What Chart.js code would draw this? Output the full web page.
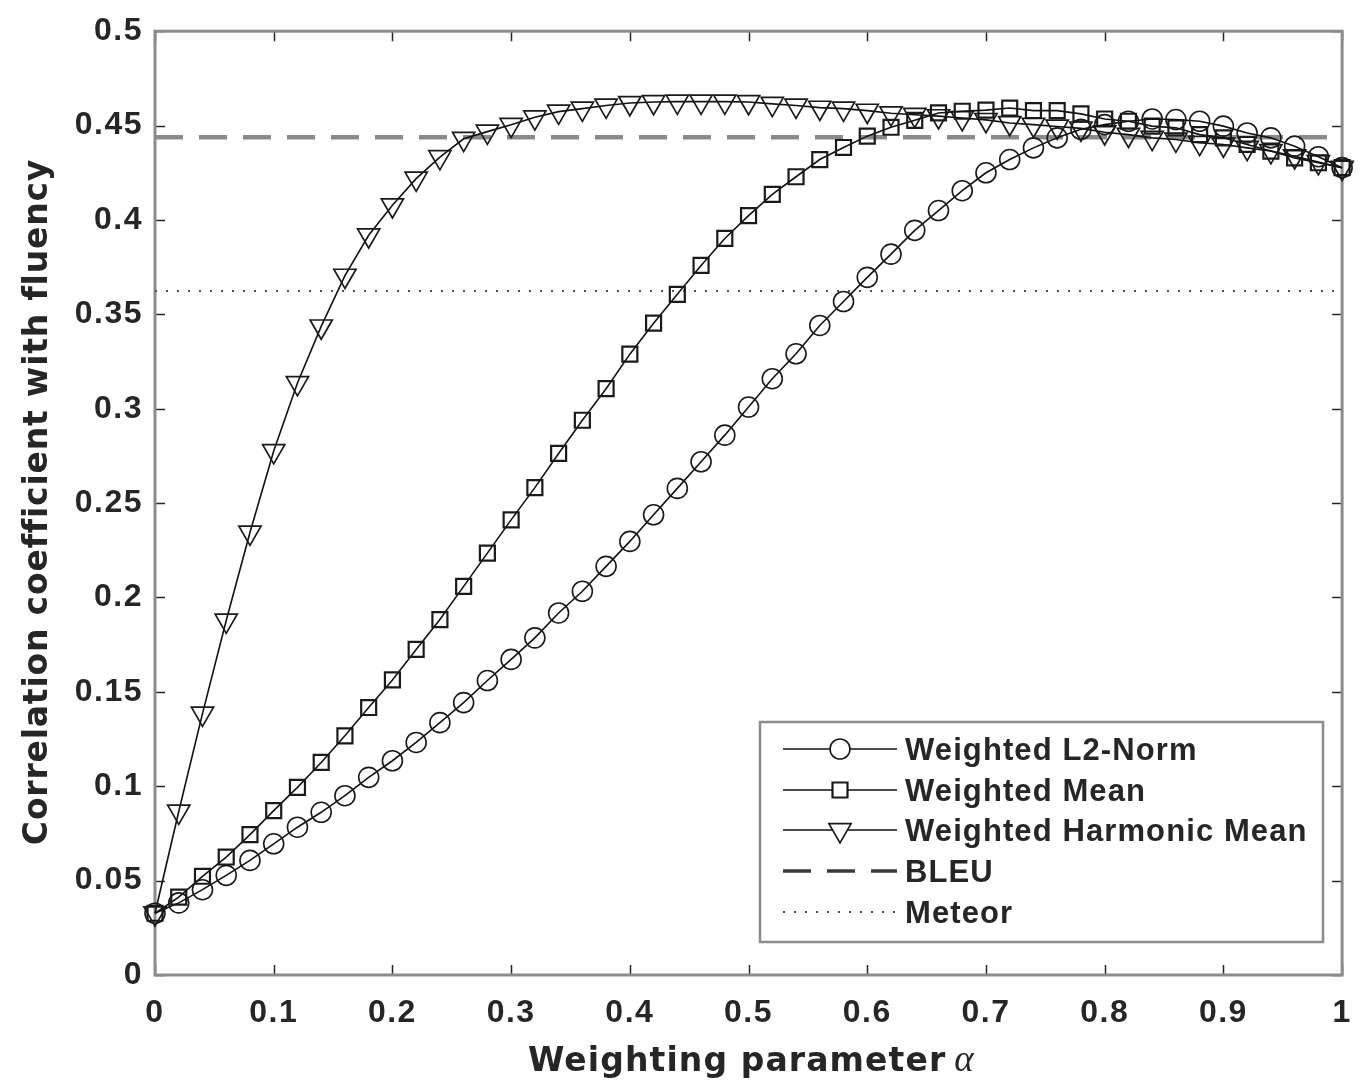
<!DOCTYPE html>
<html>
<head>
<meta charset="utf-8">
<script src="https://cdn.jsdelivr.net/npm/chart.js@4.4.1/dist/chart.umd.min.js"></script>
<style>
  html, body { margin: 0; padding: 0; background: #ffffff; }
  #wrap { width: 1370px; height: 1085px; position: relative; }
</style>
</head>
<body>
<div id="wrap"><canvas id="c"></canvas></div>
<script>
// Weighting parameter alpha (x values)
const alpha = [0, 0.02, 0.04, 0.06, 0.08, 0.1, 0.12, 0.14, 0.16, 0.18,
  0.2, 0.22, 0.24, 0.26, 0.28, 0.3, 0.32, 0.34, 0.36, 0.38,
  0.4, 0.42, 0.44, 0.46, 0.48, 0.5, 0.52, 0.54, 0.56, 0.58,
  0.6, 0.62, 0.64, 0.66, 0.68, 0.7, 0.72, 0.74, 0.76, 0.78,
  0.8, 0.82, 0.84, 0.86, 0.88, 0.9, 0.92, 0.94, 0.96, 0.98, 1];

// Correlation with fluency for each combination scheme
const l2Norm = [0.0327, 0.0382, 0.0452, 0.0528, 0.0607, 0.0695, 0.0783, 0.0862, 0.0950, 0.1047,
  0.1135, 0.1232, 0.1337, 0.1443, 0.1560, 0.1672, 0.1786, 0.1918, 0.2033, 0.2165,
  0.2297, 0.2438, 0.2578, 0.2719, 0.2860, 0.3009, 0.3159, 0.3291, 0.3441, 0.3568,
  0.3696, 0.3819, 0.3945, 0.4050, 0.4155, 0.4250, 0.4320, 0.4382, 0.4435, 0.4480,
  0.4505, 0.4523, 0.4535, 0.4532, 0.4523, 0.4497, 0.4461, 0.4435, 0.4391, 0.4335, 0.4277];

const weightedMean = [0.0327, 0.0413, 0.0523, 0.0625, 0.0744, 0.0871, 0.0994, 0.1126, 0.1267, 0.1417,
  0.1563, 0.1725, 0.1883, 0.2059, 0.2235, 0.2411, 0.2582, 0.2763, 0.2939, 0.3106,
  0.3289, 0.3453, 0.3606, 0.3759, 0.3902, 0.4023, 0.4136, 0.4229, 0.4320, 0.4384,
  0.4444, 0.4491, 0.4528, 0.4567, 0.4576, 0.4582, 0.4593, 0.4579, 0.4579, 0.4562,
  0.4535, 0.4523, 0.4497, 0.4488, 0.4452, 0.4435, 0.4400, 0.4365, 0.4329, 0.4303, 0.4277];

const harmonicMean = [0.0327, 0.0866, 0.1385, 0.1878, 0.2344, 0.2776, 0.3136, 0.3436, 0.3705, 0.3919,
  0.4078, 0.4219, 0.4333, 0.4430, 0.4468, 0.4504, 0.4544, 0.4574, 0.4590, 0.4606,
  0.4620, 0.4625, 0.4627, 0.4627, 0.4627, 0.4625, 0.4615, 0.4606, 0.4595, 0.4590,
  0.4579, 0.4565, 0.4557, 0.4550, 0.4540, 0.4530, 0.4514, 0.4505, 0.4495, 0.4485,
  0.4465, 0.4452, 0.4435, 0.4426, 0.4409, 0.4400, 0.4382, 0.4365, 0.4338, 0.4307, 0.4277];

// Reference metrics (constant across alpha)
const baselineX = [0, 1];
const bleuScore = [0.4438, 0.4438];
const meteorScore = [0.3624, 0.3624];

// Axis ticks
const xTickValues = [0, 0.1, 0.2, 0.3, 0.4, 0.5, 0.6, 0.7, 0.8, 0.9, 1];
const xTickLabels = ['0', '0.1', '0.2', '0.3', '0.4', '0.5', '0.6', '0.7', '0.8', '0.9', '1'];
const yTickValues = [0, 0.05, 0.1, 0.15, 0.2, 0.25, 0.3, 0.35, 0.4, 0.45, 0.5];
const yTickLabels = ['0', '0.05', '0.1', '0.15', '0.2', '0.25', '0.3', '0.35', '0.4', '0.45', '0.5'];

const seriesNames = ['Weighted L2-Norm', 'Weighted Mean', 'Weighted Harmonic Mean', 'BLEU', 'Meteor'];

const INK = '#262626';
const AXIS_GREY = '#8c8c8c';

const pts = (xs, ys) => xs.map((v, i) => ({ x: v, y: ys[i] }));

const markerSeries = (label, ys, style, radius, bw, extra) => Object.assign({
  label: label,
  data: pts(alpha, ys),
  showLine: true,
  borderColor: '#111111',
  borderWidth: 1.6,
  tension: 0,
  pointStyle: style,
  pointRadius: radius,
  pointHoverRadius: radius,
  pointBorderWidth: bw,
  pointBorderColor: '#1a1a1a',
  pointBackgroundColor: 'rgba(0,0,0,0)',
  clip: false
}, extra || {});

const datasets = [
  markerSeries(seriesNames[0], l2Norm, 'circle', 10, 1.6),
  markerSeries(seriesNames[1], weightedMean, 'rect', 10.6, 2.2),
  markerSeries(seriesNames[2], harmonicMean, 'triangle', 12.8, 1.7, { pointRotation: 180 }),
  {
    label: seriesNames[3], data: pts(baselineX, bleuScore), showLine: true,
    borderColor: '#8a8a8a', borderWidth: 4.5, borderDash: [28, 16], pointRadius: 0, clip: false
  },
  {
    label: seriesNames[4], data: pts(baselineX, meteorScore), showLine: true,
    borderColor: '#505050', borderWidth: 2, borderDash: [2, 9], pointRadius: 0, clip: false
  }
];

// Frame, inward tick marks, axis titles and the legend box
const framePlugin = {
  id: 'frame',
  beforeDraw(chart) {
    chart.ctx.letterSpacing = '1.5px';
  },
  beforeDatasetsDraw(chart) {
    const { ctx, chartArea: a, scales: { x, y } } = chart;
    ctx.save();
    ctx.letterSpacing = '0px';
    ctx.strokeStyle = INK;
    ctx.lineWidth = 1.5;
    ctx.beginPath();
    xTickValues.forEach(v => {
      const px = Math.round(x.getPixelForValue(v)) + 0.5;
      ctx.moveTo(px, a.bottom); ctx.lineTo(px, a.bottom - 10);
      ctx.moveTo(px, a.top); ctx.lineTo(px, a.top + 10);
    });
    yTickValues.forEach(v => {
      const py = Math.round(y.getPixelForValue(v)) + 0.5;
      ctx.moveTo(a.left, py); ctx.lineTo(a.left + 10, py);
      ctx.moveTo(a.right, py); ctx.lineTo(a.right - 10, py);
    });
    ctx.stroke();
    ctx.strokeStyle = AXIS_GREY;
    ctx.lineWidth = 3;
    ctx.strokeRect(a.left, a.top, a.right - a.left, a.bottom - a.top);
    ctx.restore();
  },
  afterDraw(chart) {
    const { ctx } = chart;
    ctx.save();
    ctx.fillStyle = INK;

    // x axis title
    ctx.font = 'bold 33px "DejaVu Sans"';
    ctx.letterSpacing = '1.1px';
    ctx.textAlign = 'left';
    ctx.textBaseline = 'alphabetic';
    const xt = 'Weighting parameter';
    ctx.fillText(xt, 528, 1071);
    const xw = ctx.measureText(xt).width;
    ctx.letterSpacing = '0px';
    ctx.font = 'italic 37px "Liberation Serif"';
    ctx.fillText('\u03B1', 528 + xw + 8, 1071);

    // y axis title
    ctx.save();
    ctx.translate(47, 502);
    ctx.rotate(-Math.PI / 2);
    ctx.font = 'bold 33px "DejaVu Sans"';
    ctx.letterSpacing = '0.8px';
    ctx.textAlign = 'center';
    ctx.fillText('Correlation coefficient with fluency', 0, 0);
    ctx.restore();

    // legend
    const bx = 760, by = 722, bw = 563, bh = 220;
    ctx.letterSpacing = '0px';
    ctx.fillStyle = '#ffffff';
    ctx.fillRect(bx, by, bw, bh);
    ctx.strokeStyle = AXIS_GREY;
    ctx.lineWidth = 2.5;
    ctx.strokeRect(bx, by, bw, bh);

    const rowY = [749, 790, 830, 871, 912];
    const lx0 = 783, lx1 = 897, mx = 840;
    datasets.forEach((ds, i) => {
      const yy = rowY[i];
      ctx.save();
      ctx.lineWidth = ds.borderWidth;
      ctx.strokeStyle = i === 3 ? '#3a3a3a' : ds.borderColor;
      if (i === 3) ctx.lineWidth = 3.5;
      ctx.setLineDash(ds.borderDash || []);
      ctx.beginPath();
      ctx.moveTo(lx0, yy);
      ctx.lineTo(lx1, yy);
      ctx.stroke();
      ctx.restore();
      if (ds.pointRadius > 0) {
        ctx.save();
        ctx.strokeStyle = ds.pointBorderColor;
        ctx.fillStyle = '#ffffff';
        ctx.lineWidth = ds.pointBorderWidth;
        Chart.helpers.drawPoint(ctx, {
          pointStyle: ds.pointStyle,
          rotation: ds.pointRotation || 0,
          radius: ds.pointRadius,
          borderWidth: ds.pointBorderWidth
        }, mx, yy);
        ctx.restore();
      }
      ctx.save();
      ctx.fillStyle = INK;
      ctx.font = 'bold 31px "Liberation Sans"';
      ctx.letterSpacing = '1.1px';
      ctx.textAlign = 'left';
      ctx.textBaseline = 'alphabetic';
      ctx.fillText(ds.label, 905, yy + 11);
      ctx.restore();
    });
    ctx.restore();
  }
};

new Chart(document.getElementById('c'), {
  type: 'scatter',
  data: { datasets: datasets },
  options: {
    responsive: true,
    maintainAspectRatio: false,
    animation: false,
    events: [],
    layout: { padding: { left: 0, right: 12, top: 27, bottom: 0 } },
    plugins: {
      legend: { display: false },
      tooltip: { enabled: false },
      title: { display: false }
    },
    scales: {
      x: {
        type: 'linear',
        min: 0, max: 1,
        afterBuildTicks: s => { s.ticks = xTickValues.map(v => ({ value: v })); },
        afterFit: s => { s.height = 110; },
        grid: { display: false, drawTicks: false },
        border: { display: false },
        ticks: {
          padding: 19,
          color: INK,
          maxRotation: 0,
          autoSkip: false,
          font: { family: '"Liberation Sans", Arial, sans-serif', size: 32, weight: 'bold' },
          callback: (v, i) => xTickLabels[i]
        }
      },
      y: {
        type: 'linear',
        min: 0, max: 0.5,
        afterBuildTicks: s => { s.ticks = yTickValues.map(v => ({ value: v })); },
        afterFit: s => { s.width = 155; },
        grid: { display: false, drawTicks: false },
        border: { display: false },
        ticks: {
          padding: 12,
          color: INK,
          autoSkip: false,
          font: { family: '"Liberation Sans", Arial, sans-serif', size: 32, weight: 'bold' },
          callback: (v, i) => yTickLabels[i]
        }
      }
    }
  },
  plugins: [framePlugin]
});
</script>
</body>
</html>
